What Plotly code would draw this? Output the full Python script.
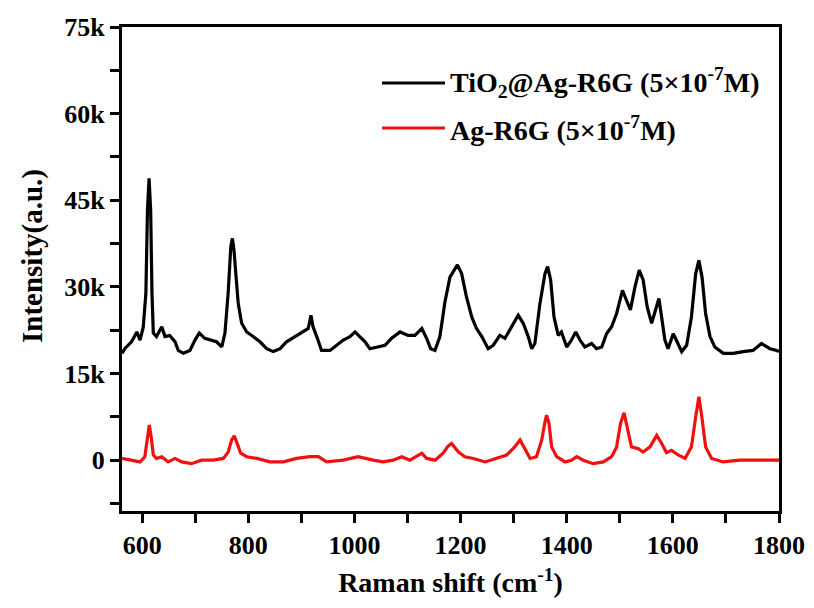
import plotly.graph_objects as go

# ---- data ----
tio2_x = [562, 568, 580, 590, 596, 602, 607, 610, 613, 616, 618.5, 621, 627, 637, 643, 652, 662, 668,
          677.5, 690, 699.5, 707.6, 718, 728, 740, 750, 756, 762, 767, 770, 773, 777, 781, 787.5, 797,
          809, 822, 834.6, 847, 860, 872, 888, 903.6, 913, 918, 922, 929, 938, 954, 966.5, 979, 991.6,
          1001, 1010, 1020, 1029, 1042, 1057.5, 1070, 1086, 1101, 1114, 1127, 1136, 1143.6, 1151.7,
          1161, 1170.5, 1180, 1186, 1194, 1202, 1211, 1221, 1230, 1240, 1252, 1261.5, 1274, 1283.6,
          1296, 1308.6, 1318, 1327.5, 1334, 1340, 1349.5, 1359, 1364, 1369.7, 1376, 1384, 1390, 1400,
          1409, 1417, 1425, 1434, 1447, 1456, 1466, 1475, 1484.6, 1494, 1505, 1513, 1520, 1528.6,
          1536.6, 1544, 1551.7, 1560, 1568, 1573.7, 1578.8, 1585, 1591, 1600.7, 1608, 1616.6, 1626,
          1635, 1643, 1649, 1655, 1661.7, 1670, 1679, 1695, 1714, 1732.5, 1751, 1767, 1783, 1795.6, 1800]
tio2_y = [18.5, 19.4, 20.5, 22.2, 20.8, 23.0, 28.9, 43.3, 48.8, 43.3, 28.9, 22.0, 21.4, 23.1, 21.4, 21.6,
          20.5, 19.0, 18.5, 19.0, 20.8, 22.0, 21.1, 20.8, 20.5, 19.6, 22.0, 28.9, 36.9, 38.4, 36.4, 31.7,
          27.1, 23.7, 22.2, 21.4, 20.5, 19.3, 18.8, 19.3, 20.5, 21.4, 22.2, 22.8, 25.1, 23.1, 21.4, 19.0,
          19.0, 19.9, 20.8, 21.4, 22.2, 21.4, 20.5, 19.3, 19.6, 19.9, 21.1, 22.2, 21.6, 21.6, 22.8, 21.1,
          19.3, 19.0, 21.4, 27.4, 31.7, 32.6, 33.8, 32.3, 28.3, 24.8, 22.8, 21.4, 19.3, 19.9, 21.6, 21.1,
          23.1, 25.1, 23.7, 21.4, 19.3, 20.2, 27.1, 32.3, 33.5, 31.2, 24.8, 21.6, 22.2, 19.6, 20.8, 22.2,
          20.8, 19.6, 20.2, 19.3, 19.6, 21.9, 23.1, 25.4, 29.4, 27.7, 26.0, 30.0, 32.9, 31.2, 26.5, 23.7,
          26.0, 28.0, 24.8, 20.8, 19.3, 21.9, 20.5, 18.8, 19.9, 24.8, 32.3, 34.6, 31.7, 25.4, 21.4, 19.6,
          18.5, 18.5, 18.8, 19.0, 20.2, 19.3, 19.0, 18.8]

ag_x = [562, 577, 596, 605, 609.7, 613.4, 617, 621, 627, 637, 649, 662, 674.5, 693, 712, 734, 753, 762,
        768.7, 773.6, 779, 785.6, 797, 816, 841, 866, 891, 916, 932, 947.7, 979, 1007, 1035.5, 1054,
        1073, 1089, 1104.6, 1127, 1136, 1152, 1167, 1176, 1183, 1189, 1196, 1208, 1224, 1246, 1268,
        1287, 1302, 1312, 1321, 1331, 1343, 1353, 1359, 1362, 1366.6, 1371.6, 1381, 1397, 1409, 1419,
        1431, 1450, 1469, 1484.6, 1494, 1501.5, 1508, 1514, 1522, 1535, 1544, 1557, 1569.5, 1579, 1588,
        1597.6, 1610, 1623, 1635, 1643, 1649, 1654.6, 1661.7, 1673, 1695, 1726, 1758, 1795.6, 1800]
ag_y = [0.3, 0.0, -0.3, 0.6, 4.0, 6.1, 4.0, 0.9, 0.3, 0.6, -0.3, 0.3, -0.3, -0.6, 0.0, 0.0, 0.3, 1.4,
        3.5, 4.2, 2.9, 1.2, 0.6, 0.3, -0.3, -0.3, 0.3, 0.6, 0.6, -0.3, 0.0, 0.6, 0.0, -0.3, 0.0, 0.6,
        0.0, 1.2, 0.3, 0.0, 1.2, 2.4, 2.9, 2.3, 1.4, 0.6, 0.3, -0.3, 0.3, 0.9, 2.3, 3.5, 2.0, 0.3, 0.6,
        3.5, 6.6, 7.8, 6.4, 2.3, 0.6, -0.3, 0.0, 0.6, 0.0, -0.6, -0.3, 0.6, 2.3, 6.4, 8.2, 5.8, 2.3,
        2.0, 1.4, 2.3, 4.3, 2.9, 1.3, 1.7, 0.9, 0.3, 2.3, 7.5, 11.0, 7.5, 2.3, 0.3, -0.3, 0.0, 0.0,
        0.0, 0.0]

y_tick_vals = [0, 15000, 30000, 45000, 60000, 75000]
y_tick_text = ["0", "15k", "30k", "45k", "60k", "75k"]
x_tick_vals = [600, 800, 1000, 1200, 1400, 1600, 1800]

series_names = ["TiO<sub>2</sub>@Ag-R6G (5×10<sup>-7</sup>M)", "Ag-R6G (5×10<sup>-7</sup>M)"]
series_colors = ["#000000", "#f01010"]
x_title = "Raman shift (cm<sup>-1</sup>)"
y_title = "Intensity(a.u.)"

FONT = "Liberation Serif"

fig = go.Figure()
fig.add_trace(go.Scatter(x=tio2_x, y=[v * 1000 for v in tio2_y], mode="lines",
                         line=dict(color=series_colors[0], width=3.2), name=series_names[0],
                         showlegend=False))
fig.add_trace(go.Scatter(x=ag_x, y=[v * 1000 for v in ag_y], mode="lines",
                         line=dict(color=series_colors[1], width=3.2), name=series_names[1],
                         showlegend=False))

# page has an 8px body margin: size the figure so the plot box lands where the original's is
OFF = 8
W, H = 814 - OFF, 608 - OFF
L, R, T, B = 122 - OFF, 35, 27 - OFF, 97
pw, ph = W - L - R, H - T - B
def px(x):
    return (x - OFF - L) / pw
def py(y):
    return (H - B - (y - OFF)) / ph

for yy, nm, col in zip([83, 128], series_names, series_colors):
    fig.add_shape(type="line", xref="paper", yref="paper", x0=px(382), x1=px(445),
                  y0=py(yy), y1=py(yy), line=dict(color=col, width=3))
    fig.add_annotation(xref="paper", yref="paper", x=px(448), y=py(yy), text=nm,
                       showarrow=False, xanchor="left", yanchor="middle",
                       font=dict(family=FONT, size=28, color="black", weight="bold"))

# y-axis title placed where the original has it
fig.add_annotation(xref="paper", yref="paper", x=px(32), y=py(256), text=y_title, textangle=-90,
                   showarrow=False, xanchor="center", yanchor="middle",
                   font=dict(family=FONT, size=29, color="black", weight="bold"))

fig.update_layout(
    width=W, height=H,
    margin=dict(l=L, r=R, t=T, b=B),
    plot_bgcolor="white", paper_bgcolor="white",
    font=dict(family=FONT, color="black", weight="bold"),
)
fig.update_xaxes(
    range=[562, 1800], tickvals=x_tick_vals, ticks="outside", ticklen=9, tickwidth=2.5,
    tickcolor="black", showline=True, linewidth=3, linecolor="black", mirror=True,
    showgrid=False, zeroline=False, automargin=False,
    minor=dict(dtick=100, tick0=0, ticks="outside", ticklen=9, tickwidth=2.5, tickcolor="black"),
    tickfont=dict(family=FONT, size=26, weight="bold"),
    title=dict(text=x_title, font=dict(family=FONT, size=28, weight="bold"), standoff=14),
)
fig.update_yaxes(
    range=[-8800, 75000], tickvals=y_tick_vals, ticktext=y_tick_text, ticks="outside", ticklen=9,
    tickwidth=2.5, tickcolor="black", showline=True, linewidth=3, linecolor="black", mirror=True,
    showgrid=False, zeroline=False, automargin=False,
    minor=dict(tickvals=[-7500, 7500, 22500, 37500, 52500, 67500], ticks="outside", ticklen=9,
               tickwidth=2.5, tickcolor="black"),
    tickfont=dict(family=FONT, size=26, weight="bold"),
)

fig.write_html("out.html")
